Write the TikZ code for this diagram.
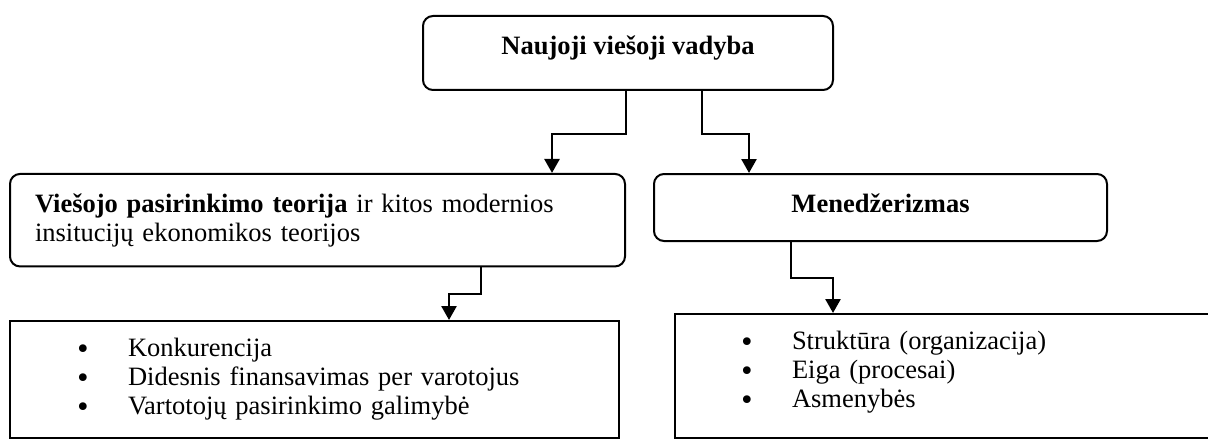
\documentclass[tikz,border=0pt]{standalone}
\usepackage{fontspec}
\setmainfont{Liberation Serif}
\newfontfamily\bulfont{DejaVu Sans}
\usetikzlibrary{arrows.meta}
\tikzset{
  % thin box frames, heavier connectors with solid triangle tips
  roundbox/.style = {draw, rounded corners=5pt, line width=1pt,
                     inner xsep=0pt, inner ysep=0pt},
  listbox/.style  = {draw, line width=1pt, inner xsep=0pt, inner ysep=0pt,
                     align=left},
  conn/.style     = {-{Triangle[length=7pt, width=7.5pt]}, line width=1.3pt},
}
\newcommand{\bul}{\makebox[24.5pt][l]{\hspace*{-2pt}\raisebox{-1pt}{\bulfont\textbullet}}}

\begin{document}
\begin{tikzpicture}[x=1pt, y=1pt, font=\fontsize{13.25}{14.5}\selectfont]
  \clip (0,0) rectangle (604,220);
  % top level
  \node[roundbox, minimum width=205pt, minimum height=37pt,
        text height=19pt, text depth=18pt] (nvv) at (314,193.5)
        {\textbf{Naujoji viešoji vadyba}};
  % second level
  \node[roundbox, minimum width=307.5pt, minimum height=46.25pt,
        text width=282.5pt, align=left, text height=19.35pt, text depth=26.9pt]
        (vpt) at (158.75,109.9)
        {\textbf{Viešojo pasirinkimo teorija} ir kitos modernios\\
         insitucijų ekonomikos teorijos};
  \node[roundbox, minimum width=226.5pt, minimum height=33.5pt,
        text height=19.25pt, text depth=14.25pt] (men) at (440.25,116.25)
        {\textbf{Menedžerizmas}};
  % lists
  \node[listbox, minimum width=304.5pt, minimum height=58.5pt,
        text width=235.5pt, text height=17.5pt, text depth=41pt]
        (prc) at (157.25,30.25)
        {\bul Konkurencija\\
         \bul Didesnis finansavimas per varotojus\\
         \bul Vartotojų pasirinkimo galimybė};
  \node[listbox, minimum width=272.5pt, minimum height=62pt,
        text width=204.5pt, text height=17.5pt, text depth=44.5pt]
        (sri) at (473.75,32)
        {\bul Struktūra (organizacija)\\
         \bul Eiga (procesai)\\
         \bul Asmenybės};
  % connectors
  \draw[conn] ([xshift=-1pt]nvv.south) -- ++(0,-21.5) -| ([xshift=117.25pt]vpt.north);
  \draw[conn] ([xshift=37pt]nvv.south) -- ++(0,-21.5) -| ([xshift=-65.75pt]men.north);
  \draw[conn] ([xshift=81.75pt]vpt.south) -- ++(0,-13.25) -| ([xshift=67.25pt]prc.north);
  \draw[conn] ([xshift=-44.75pt]men.south) -- ++(0,-18) -| ([xshift=-57.25pt]sri.north);
\end{tikzpicture}
\end{document}
